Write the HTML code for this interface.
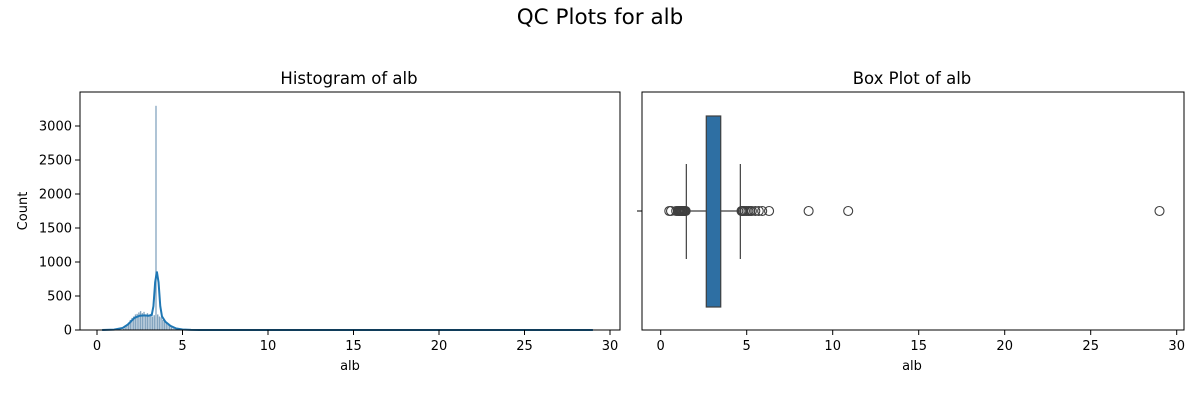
<!DOCTYPE html>
<html><head><meta charset="utf-8"><style>
body{margin:0;background:#fff;font-family:"Liberation Sans","DejaVu Sans",sans-serif}
svg text{font-family:"DejaVu Sans","Liberation Sans",sans-serif}
</style></head><body>
<svg id="c" width="1200" height="400" xmlns="http://www.w3.org/2000/svg">
<text x="600" y="24" text-anchor="middle" font-size="21.5">QC Plots for alb</text>
<text x="349" y="84" text-anchor="middle" font-size="16.5">Histogram of alb</text>
<text x="912" y="84" text-anchor="middle" font-size="16.5">Box Plot of alb</text>
<g id="h"></g>
<g id="b"></g>
</svg>
<script>
const xTicks=[0,5,10,15,20,25,30];
const yTicks=[0,500,1000,1500,2000,2500,3000];
const binStart=[1.5,1.6,1.7,1.8,1.9,2.0,2.1,2.2,2.3,2.4,2.5,2.6,2.7,2.8,2.9,3.0,3.1,3.2,3.3,3.4,3.5,3.6,3.7,3.8,3.9,4.0,4.1,4.2,4.3,4.4,4.5,4.6,4.7];
const binCount=[20,40,70,110,150,180,200,230,240,260,280,250,270,230,250,220,240,200,220,3300,230,200,190,150,130,110,80,60,40,25,15,10,5];
const binWidth=0.1;
const kdeX=[0.3,1.0,1.5,1.8,2.0,2.2,2.5,2.8,3.0,3.2,3.3,3.4,3.5,3.6,3.7,3.8,4.0,4.3,4.6,5.0,5.5,6,10,20,29];
const kdeY=[0,5,30,80,130,180,210,215,210,220,350,700,860,700,350,200,120,60,25,8,2,0,0,0,0];
const boxStats={whiskLo:1.49,q1:2.65,median:3.5,q3:3.49,whiskHi:4.63};
const outliers=[0.5,0.6,0.9,1.0,1.05,1.1,1.15,1.2,1.25,1.3,1.35,1.4,1.45,4.7,4.75,4.8,4.9,5.0,5.1,5.2,5.3,5.5,5.7,5.9,6.3,8.6,10.9,29.0];
const NS='http://www.w3.org/2000/svg';
function mk(p,t,a){const e=document.createElementNS(NS,t);for(const k in a)e.setAttribute(k,a[k]);p.appendChild(e);return e;}
const hx=v=>97+v*(610-97)/30, hy=v=>330-v*(330-126)/3000;
const bx=v=>660.7+v*17.2;
const H=document.getElementById('h'),B=document.getElementById('b');
binStart.forEach((s,i)=>{const r=mk(H,'rect',{x:hx(s),y:hy(binCount[i]),width:hx(s+binWidth)-hx(s),height:330-hy(binCount[i]),fill:'#5a86aa','fill-opacity':0.75,stroke:'#fff','stroke-width':0.3});

});
const kd=kdeX.map((x,i)=>(i?'L':'M')+hx(x)+','+hy(kdeY[i])).join('');
const kl=mk(H,'path',{d:kd,fill:'none',stroke:'#1f77b4','stroke-width':2});


const hf=mk(H,'rect',{x:80,y:92,width:540,height:238,fill:'none',stroke:'#000','stroke-width':1});


xTicks.forEach(t=>{mk(H,'line',{x1:hx(t),x2:hx(t),y1:330,y2:335,stroke:'#000'});
const l=mk(H,'text',{x:hx(t),y:350,'text-anchor':'middle','font-size':13});l.textContent=t;

});
yTicks.forEach(t=>{mk(H,'line',{x1:75,x2:80,y1:hy(t),y2:hy(t),stroke:'#000'});
const l=mk(H,'text',{x:72,y:hy(t)+4.5,'text-anchor':'end','font-size':13});l.textContent=t;

});
let t=mk(H,'text',{x:350,y:370,'text-anchor':'middle','font-size':13});t.textContent='alb';


t=mk(H,'text',{x:27,y:211,'text-anchor':'middle','font-size':13,transform:'rotate(-90 27 211)'});t.textContent='Count';


const cy=211;
mk(B,'line',{x1:bx(boxStats.whiskLo),x2:bx(boxStats.q1),y1:cy,y2:cy,stroke:'#3f3f3f','stroke-width':1.2});
mk(B,'line',{x1:bx(boxStats.q3),x2:bx(boxStats.whiskHi),y1:cy,y2:cy,stroke:'#3f3f3f','stroke-width':1.2});
[boxStats.whiskLo,boxStats.whiskHi].forEach(w=>mk(B,'line',{x1:bx(w),x2:bx(w),y1:164,y2:259,stroke:'#3f3f3f','stroke-width':1.2}));
const bxr=mk(B,'rect',{x:bx(boxStats.q1),y:116,width:bx(boxStats.q3)-bx(boxStats.q1),height:191,fill:'#2e6fa3',stroke:'#3f3f3f','stroke-width':1.2});


outliers.forEach(o=>{const c=mk(B,'circle',{cx:bx(o),cy:cy,r:4.5,fill:'none',stroke:'#3f3f3f','stroke-width':1.1});

});
const bf=mk(B,'rect',{x:642,y:92,width:542,height:238,fill:'none',stroke:'#000','stroke-width':1});


mk(B,'line',{x1:637,x2:642,y1:cy,y2:cy,stroke:'#000'});
xTicks.forEach(v=>{mk(B,'line',{x1:bx(v),x2:bx(v),y1:330,y2:335,stroke:'#000'});
const l=mk(B,'text',{x:bx(v),y:350,'text-anchor':'middle','font-size':13});l.textContent=v;

});
t=mk(B,'text',{x:912,y:370,'text-anchor':'middle','font-size':13});t.textContent='alb';


</script>
</body></html>
